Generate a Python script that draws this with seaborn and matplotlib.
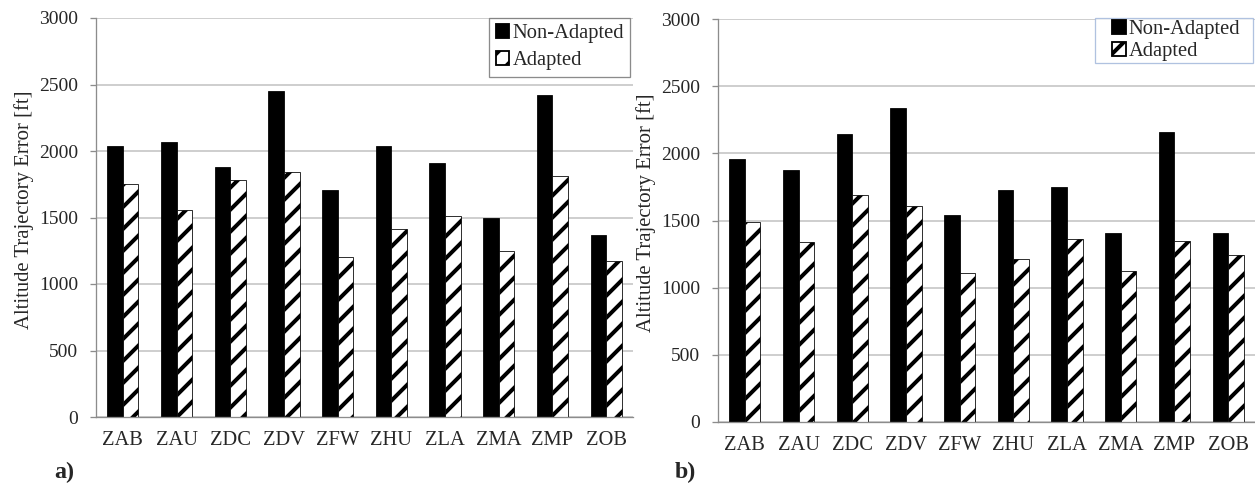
import numpy as np
import pandas as pd
import matplotlib
matplotlib.use("Agg")
import matplotlib.pyplot as plt
import seaborn as sns
from matplotlib.patches import Patch, Rectangle
from matplotlib.legend_handler import HandlerPatch

categories = ["ZAB", "ZAU", "ZDC", "ZDV", "ZFW", "ZHU", "ZLA", "ZMA", "ZMP", "ZOB"]
series_names = ["Non-Adapted", "Adapted"]
a_non_adapted = [2040, 2070, 1880, 2450, 1710, 2040, 1910, 1500, 2420, 1370]
a_adapted = [1755, 1560, 1785, 1845, 1200, 1410, 1515, 1250, 1810, 1175]
b_non_adapted = [1960, 1875, 2145, 2335, 1540, 1730, 1750, 1410, 2160, 1410]
b_adapted = [1490, 1340, 1690, 1610, 1110, 1210, 1365, 1125, 1345, 1245]
y_ticks = [0, 500, 1000, 1500, 2000, 2500, 3000]
y_label = "Altitude Trajectory Error [ft]"
panel_labels = ["a)", "b)"]

W, H = 1255, 483
DPI = 132  # chosen so that the '//' hatch spacing matches the reference stripes


def px(p):
    """convert pixels to points at this dpi"""
    return p * 72.0 / DPI


sns.set_style("white")
plt.rcParams["font.family"] = ["Liberation Serif", "DejaVu Serif"]
plt.rcParams["hatch.linewidth"] = px(4.0)
plt.rcParams["hatch.color"] = "black"

fig = plt.figure(figsize=(W / DPI, H / DPI), dpi=DPI)
ax_a = fig.add_axes([96 / W, (H - 417) / H, 537 / W, 399 / H])
ax_b = fig.add_axes([718 / W, (H - 422) / H, 537 / W, 403 / H])


def right_square(legend, orig_handle, xdescent, ydescent, width, height, fontsize):
    side = height
    return Rectangle((width - side - xdescent, -ydescent), side, side)


square_handler = HandlerPatch(patch_func=right_square)


def draw(ax, non, ada, legend_edge, leg_box, leg_spacing, leg_pad, leg_hlen):
    df = pd.DataFrame({
        "cat": categories * 2,
        "series": [series_names[0]] * len(categories) + [series_names[1]] * len(categories),
        "val": non + ada,
    })
    sns.barplot(data=df, x="cat", y="val", hue="series", hue_order=series_names,
                palette=["black", "white"], width=0.58, ax=ax, legend=False,
                edgecolor="black", linewidth=px(0.8))
    n = len(categories)
    for i, p in enumerate(ax.patches):
        if i >= n:
            p.set_hatch("//")
            p.set_facecolor("white")
            p.set_edgecolor("black")
    ax.set_ylim(0, 3000)
    ax.set_xlim(-0.5, n - 0.5)
    ax.set_yticks(y_ticks)
    ax.set_yticklabels([str(t) for t in y_ticks], fontsize=px(19.5))
    ax.yaxis.grid(True, color="#c4c4c4", linewidth=px(1.6))
    ax.set_axisbelow(True)
    ax.set_xlabel("")
    ax.set_ylabel(y_label, fontsize=px(20.8))
    ax.yaxis.set_label_coords(-62 / 537, 0.52)
    for s in ["top", "right"]:
        ax.spines[s].set_visible(False)
    for s in ["left", "bottom"]:
        ax.spines[s].set_color("#8c8c8c")
        ax.spines[s].set_linewidth(px(1.3))
    ax.set_xticks(range(n))
    ax.set_xticklabels(categories, fontsize=px(20.5))
    ax.tick_params(axis="x", which="major", length=0, pad=px(14))
    ax.set_xticks(np.arange(-0.5, n, 1.0), minor=True)
    ax.tick_params(axis="x", which="minor", length=px(5), color="#8c8c8c", width=px(1.3))
    ax.tick_params(axis="y", length=px(6), color="#8c8c8c", width=px(1.3), pad=px(12), left=True)
    handles = [Patch(facecolor="black", edgecolor="black", label=series_names[0]),
               Patch(facecolor="white", edgecolor="black", hatch="//", label=series_names[1])]
    leg = ax.legend(handles=handles, loc="upper right", bbox_to_anchor=leg_box,
                    mode="expand", fontsize=px(20.5), frameon=True, fancybox=False,
                    handlelength=leg_hlen, handleheight=0.65, handletextpad=0.15,
                    labelspacing=leg_spacing, borderpad=leg_pad, borderaxespad=0.0,
                    handler_map={Patch: square_handler})
    leg.get_frame().set_edgecolor(legend_edge)
    leg.get_frame().set_linewidth(px(1.3))


draw(ax_a, a_non_adapted, a_adapted, "#6e6e6e",
     ((489 - 96) / 537, 0.5, 141 / 537, 0.5), 0.4, 0.3, 0.7)
draw(ax_b, b_non_adapted, b_adapted, "#9db3d9",
     ((1095 - 718) / 537, 0.5, 158 / 537, 0.5025), 0.15, 0.1, 1.4)

fig.text(54 / W, 1 - 478 / H, panel_labels[0], fontsize=px(24), fontweight="bold", va="baseline")
fig.text(675 / W, 1 - 478 / H, panel_labels[1], fontsize=px(24), fontweight="bold", va="baseline")

fig.savefig("out.png", dpi=DPI)
